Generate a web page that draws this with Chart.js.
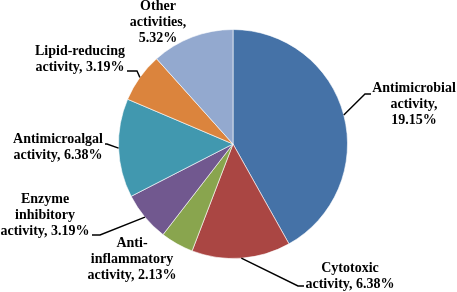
<!DOCTYPE html>
<html>
<head>
<meta charset="utf-8">
<script src="https://cdn.jsdelivr.net/npm/chart.js@4"></script>
<style>
  html, body { margin: 0; padding: 0; background: #fff; }
  #wrap { width: 457px; height: 292px; position: relative; }
</style>
</head>
<body>
<div id="wrap"><canvas id="pie"></canvas></div>
<script>
const categories = ['Antimicrobial activity', 'Cytotoxic activity', 'Anti-inflammatory activity',
    'Enzyme inhibitory activity', 'Antimicroalgal activity', 'Lipid-reducing activity', 'Other activities'];
const values = [19.15, 6.38, 2.13, 3.19, 6.38, 3.19, 5.32];
const colors = ['#4572A7', '#AA4643', '#89A54E', '#71588F', '#4198AF', '#DB843D', '#93A9CF'];

// label layout: text lines, centre x, first baseline, leader elbow + end (or null)
const labelLayout = [
    { lines: ['Antimicrobial', 'activity,', '19.15%'], x: 414, y: 92, leader: [[365, 94], [371, 94]] },
    { lines: ['Cytotoxic', 'activity, 6.38%'], x: 350, y: 272, leader: [[298, 286], [304, 286]] },
    { lines: ['Anti-', 'inflammatory', 'activity, 2.13%'], x: 132, y: 247, leader: null },
    { lines: ['Enzyme', 'inhibitory', 'activity, 3.19%'], x: 45, y: 203, leader: [[100, 235], [92, 235]] },
    { lines: ['Antimicroalgal', 'activity, 6.38%'], x: 58, y: 143, leader: [[107, 144], [105, 144]] },
    { lines: ['Lipid-reducing', 'activity, 3.19%'], x: 80, y: 55, leader: [[137, 71], [127, 71]] },
    { lines: ['Other', 'activities,', '5.32%'], x: 158, y: 10, leader: null }
];

const labelPlugin = {
    id: 'pieLabels',
    afterDraw(chart) {
        const ctx = chart.ctx;
        const arcs = chart.getDatasetMeta(0).data;
        ctx.save();
        arcs.forEach((arc, i) => {
            const lay = labelLayout[i];
            if (lay.leader) {
                const mid = (arc.startAngle + arc.endAngle) / 2;
                const sx = arc.x + Math.cos(mid) * arc.outerRadius;
                const sy = arc.y + Math.sin(mid) * arc.outerRadius;
                ctx.beginPath();
                ctx.moveTo(sx, sy);
                lay.leader.forEach(p => ctx.lineTo(p[0], p[1]));
                ctx.strokeStyle = '#000';
                ctx.lineWidth = 1.4;
                ctx.stroke();
            }
            ctx.fillStyle = '#000';
            ctx.font = 'bold 14px "Liberation Serif", "Times New Roman", serif';
            ctx.textAlign = 'center';
            ctx.textBaseline = 'alphabetic';
            lay.lines.forEach((t, k) => ctx.fillText(t, lay.x, lay.y + k * 16));
        });
        ctx.restore();
    }
};

new Chart(document.getElementById('pie'), {
    type: 'pie',
    data: {
        labels: categories,
        datasets: [{
            data: values,
            backgroundColor: colors,
            borderColor: 'rgba(255,255,255,0.6)',
            borderWidth: 1
        }]
    },
    options: {
        responsive: true,
        maintainAspectRatio: false,
        animation: false,
        layout: { padding: { left: 118, right: 109, top: 29, bottom: 33 } },
        plugins: {
            legend: { display: false },
            tooltip: { enabled: false }
        }
    },
    plugins: [labelPlugin]
});
</script>
</body>
</html>
